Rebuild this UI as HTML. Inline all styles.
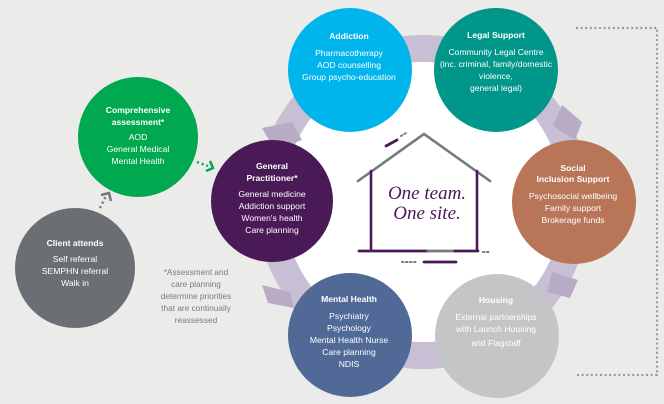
<!DOCTYPE html>
<html><head><meta charset="utf-8"><style>
html,body{margin:0;padding:0;background:#ebebea;}
svg{display:block;font-family:"Liberation Sans",sans-serif;}
.t{fill:#fff;font-size:8.6px;text-anchor:middle;}
.b{font-weight:bold;}
</style></head><body>
<svg width="664" height="404" viewBox="0 0 664 404">
<rect width="664" height="404" fill="#ebebea"/>
<path d="M576 28 H657 V375 H576" fill="none" stroke="#9a9a9c" stroke-width="2.2" stroke-dasharray="2 2.6"/>
<circle cx="423" cy="202" r="167" fill="#c9bfd4"/>
<circle cx="423" cy="202" r="140" fill="#fff"/>
<g fill="#b8abc5">
<polygon points="262,128 292,122 302,140 275,150"/>
<polygon points="262,285 290,292 294,308 268,303"/>
<polygon points="562,105 582,122 575,140 553,126"/>
<polygon points="552,272 578,280 570,298 547,292"/>
</g>
<!-- house -->
<g fill="none" stroke-linecap="round">
<polyline points="358,181 424,134 490,181" stroke="#757a7e" stroke-width="2.6"/>
<line x1="371" y1="171" x2="371" y2="250" stroke="#4a1a57" stroke-width="2.6"/>
<line x1="477" y1="171" x2="477" y2="250" stroke="#4a1a57" stroke-width="2.6"/>
<line x1="359" y1="251" x2="428" y2="251" stroke="#4a1a57" stroke-width="2.8"/>
<line x1="428" y1="251" x2="455" y2="251" stroke="#757a7e" stroke-width="2.8"/>
<line x1="455" y1="251" x2="478" y2="251" stroke="#4a1a57" stroke-width="2.8"/>
<line x1="424" y1="262" x2="456" y2="262" stroke="#4a1a57" stroke-width="2.8"/>
<line x1="386" y1="146" x2="397" y2="140" stroke="#4a1a57" stroke-width="2.8"/>
<path d="M402 262h16" stroke="#757a7e" stroke-width="2" stroke-dasharray="1.5 2.5"/>
<path d="M483 252h6" stroke="#757a7e" stroke-width="2" stroke-dasharray="1.5 2.5"/>
<path d="M401 136l5 -3" stroke="#757a7e" stroke-width="2" stroke-dasharray="1.5 2.5"/>
</g>
<text x="427" y="199" fill="#4a1a57" font-family="Liberation Serif,serif" font-style="italic" font-size="19" text-anchor="middle">One team.</text>
<text x="427" y="219" fill="#4a1a57" font-family="Liberation Serif,serif" font-style="italic" font-size="19" text-anchor="middle">One site.</text>
<!-- arrows -->
<path d="M100 208 L106 196" stroke="#777" stroke-width="2.5" stroke-dasharray="2 3" fill="none"/>
<polyline points="101,195 109,193 111,201" fill="none" stroke="#777" stroke-width="2.5"/>
<path d="M197 162 L208 166" stroke="#00a94f" stroke-width="2.5" stroke-dasharray="2 3" fill="none"/>
<polyline points="206,171 213,168 210,161" fill="none" stroke="#00a94f" stroke-width="2.5"/>
<!-- circles -->
<circle cx="75" cy="268" r="60" fill="#6b6f74"/>
<text class="t b" x="75" y="246">Client attends</text>
<text class="t" x="75" y="262">Self referral</text>
<text class="t" x="75" y="274">SEMPHN referral</text>
<text class="t" x="75" y="286">Walk in</text>
<circle cx="138" cy="137" r="60" fill="#00a94f"/>
<text class="t b" x="138" y="113">Comprehensive</text>
<text class="t b" x="138" y="125">assessment*</text>
<text class="t" x="138" y="140">AOD</text>
<text class="t" x="138" y="152">General Medical</text>
<text class="t" x="138" y="164">Mental Health</text>
<circle cx="272" cy="201" r="61" fill="#4a1a57"/>
<text class="t b" x="272" y="169">General</text>
<text class="t b" x="272" y="181">Practitioner*</text>
<text class="t" x="272" y="197">General medicine</text>
<text class="t" x="272" y="209">Addiction support</text>
<text class="t" x="272" y="221">Women's health</text>
<text class="t" x="272" y="233">Care planning</text>
<text x="196" y="275" fill="#7b7b7d" font-size="8.3" text-anchor="middle">*Assessment and</text>
<text x="196" y="287" fill="#7b7b7d" font-size="8.3" text-anchor="middle">care planning</text>
<text x="196" y="299" fill="#7b7b7d" font-size="8.3" text-anchor="middle">determine priorities</text>
<text x="196" y="311" fill="#7b7b7d" font-size="8.3" text-anchor="middle">that are continually</text>
<text x="196" y="323" fill="#7b7b7d" font-size="8.3" text-anchor="middle">reassessed</text>
<circle cx="350" cy="70" r="62" fill="#00b4ec"/>
<text class="t b" x="349" y="39">Addiction</text>
<text class="t" x="349" y="56">Pharmacotherapy</text>
<text class="t" x="349" y="68">AOD counselling</text>
<text class="t" x="349" y="80">Group psycho-education</text>
<circle cx="496" cy="70" r="62" fill="#00968a"/>
<text class="t b" x="496" y="38">Legal Support</text>
<text class="t" x="496" y="55">Community Legal Centre</text>
<text class="t" x="496" y="67">(inc. criminal, family/domestic</text>
<text class="t" x="496" y="79">violence,</text>
<text class="t" x="496" y="91">general legal)</text>
<circle cx="574" cy="202" r="62" fill="#b87558"/>
<text class="t b" x="573" y="171">Social</text>
<text class="t b" x="573" y="182">Inclusion Support</text>
<text class="t" x="573" y="199">Psychosocial wellbeing</text>
<text class="t" x="573" y="211">Family support</text>
<text class="t" x="573" y="223">Brokerage funds</text>
<circle cx="350" cy="335" r="62" fill="#506997"/>
<text class="t b" x="349" y="302">Mental Health</text>
<text class="t" x="349" y="319">Psychiatry</text>
<text class="t" x="349" y="331">Psychology</text>
<text class="t" x="349" y="343">Mental Health Nurse</text>
<text class="t" x="349" y="355">Care planning</text>
<text class="t" x="349" y="367">NDIS</text>
<circle cx="497" cy="336" r="62" fill="#c4c5c6"/>
<text class="t b" x="496" y="303">Housing</text>
<text class="t" x="496" y="320">External partnerships</text>
<text class="t" x="496" y="332">with Launch Housing</text>
<text class="t" x="496" y="346">and Flagstaff</text>
</svg>
</body></html>
